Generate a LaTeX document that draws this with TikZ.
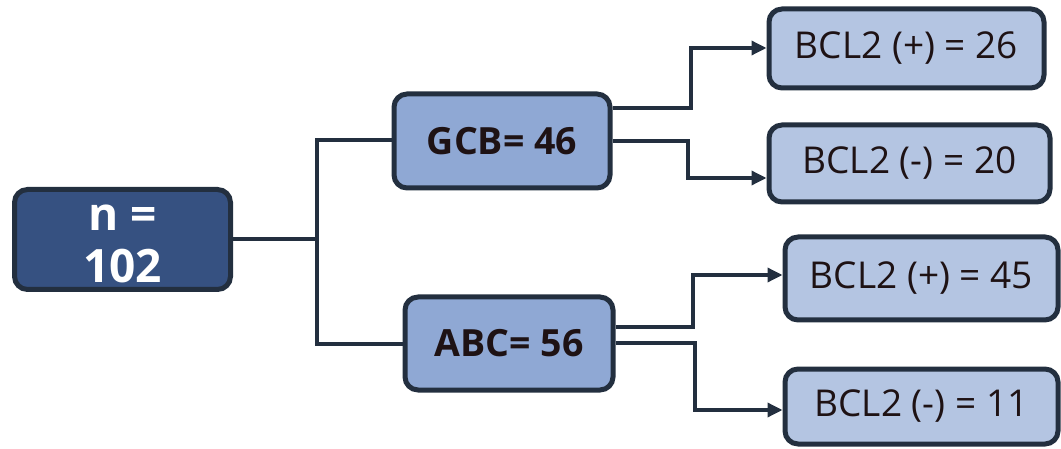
\documentclass[tikz,border=0pt]{standalone}
\usepackage{fontspec}
\setmainfont{Open Sans}
\usetikzlibrary{arrows.meta}
\definecolor{edge}{HTML}{232F3F}
\definecolor{rootfill}{HTML}{365181}
\definecolor{midfill}{HTML}{8FA8D4}
\definecolor{leaffill}{HTML}{B4C5E2}
\definecolor{txt}{HTML}{1E1214}
\tikzset{
  box/.style={draw=edge, line width=5pt, rounded corners=13pt, inner sep=0pt, anchor=center},
  rootbox/.style={box, fill=rootfill, minimum width=216pt, minimum height=100pt, text=white,
    font=\fontsize{46}{52}\selectfont\bfseries, align=center},
  midbox/.style={box, fill=midfill, font=\fontsize{37.5}{40}\selectfont\bfseries, text=txt},
  leafbox/.style={box, fill=leaffill, font=\fontsize{37}{40}\selectfont, text=txt},
  conn/.style={draw=edge, line width=3.4pt},
  arr/.style={conn, -{Triangle[length=15pt,width=14pt]}},
}
\begin{document}
\begin{tikzpicture}[x=1pt,y=-1pt]
\useasboundingbox (0,0) rectangle (1061,449);
\node[rootbox] (root) at (122.5,239.5) {};
\node[white, font=\fontsize{46}{52}\selectfont\bfseries, align=center, inner sep=0pt] (roottxt) at (122.5,244) {n =\\102};
\node[midbox, minimum width=216pt, minimum height=94pt] (gcb) at (502,141) {GCB= 46};
\node[midbox, minimum width=208pt, minimum height=93pt] (abc) at (509,343.5) {ABC= 56};
\node[leafbox, minimum width=275pt, minimum height=79pt] (l1) at (906.5,48.5) {BCL2 (+) = 26};
\node[leafbox, minimum width=281pt, minimum height=77pt] (l2) at (909.5,163.5) {BCL2 (-) = 20};
\node[leafbox, minimum width=273pt, minimum height=83pt] (l3) at (921.5,278.5) {BCL2 (+) = 45};
\node[leafbox, minimum width=273pt, minimum height=75pt] (l4) at (921.5,406.5) {BCL2 (-) = 11};
% root branches
\coordinate (split) at (317,239);
\draw[conn] (root.east |- split) -- (split);
\draw[conn] (split) -- (317,140) -- (gcb.west |- 0,140);
\draw[conn] (split) -- (317,344) -- (abc.west |- 0,344);
% GCB
\draw[arr] (gcb.east |- 0,108) -- (691,108) -- (691,48) -- (l1.west |- 0,48);
\draw[arr] (gcb.east |- 0,141) -- (688,141) -- (688,178) -- (l2.west |- 0,178);
% ABC
\draw[arr] (abc.east |- 0,327) -- (693,327) -- (693,275) -- (l3.west |- 0,275);
\draw[arr] (abc.east |- 0,343) -- (695,343) -- (695,410) -- (l4.west |- 0,410);
\end{tikzpicture}
\end{document}
